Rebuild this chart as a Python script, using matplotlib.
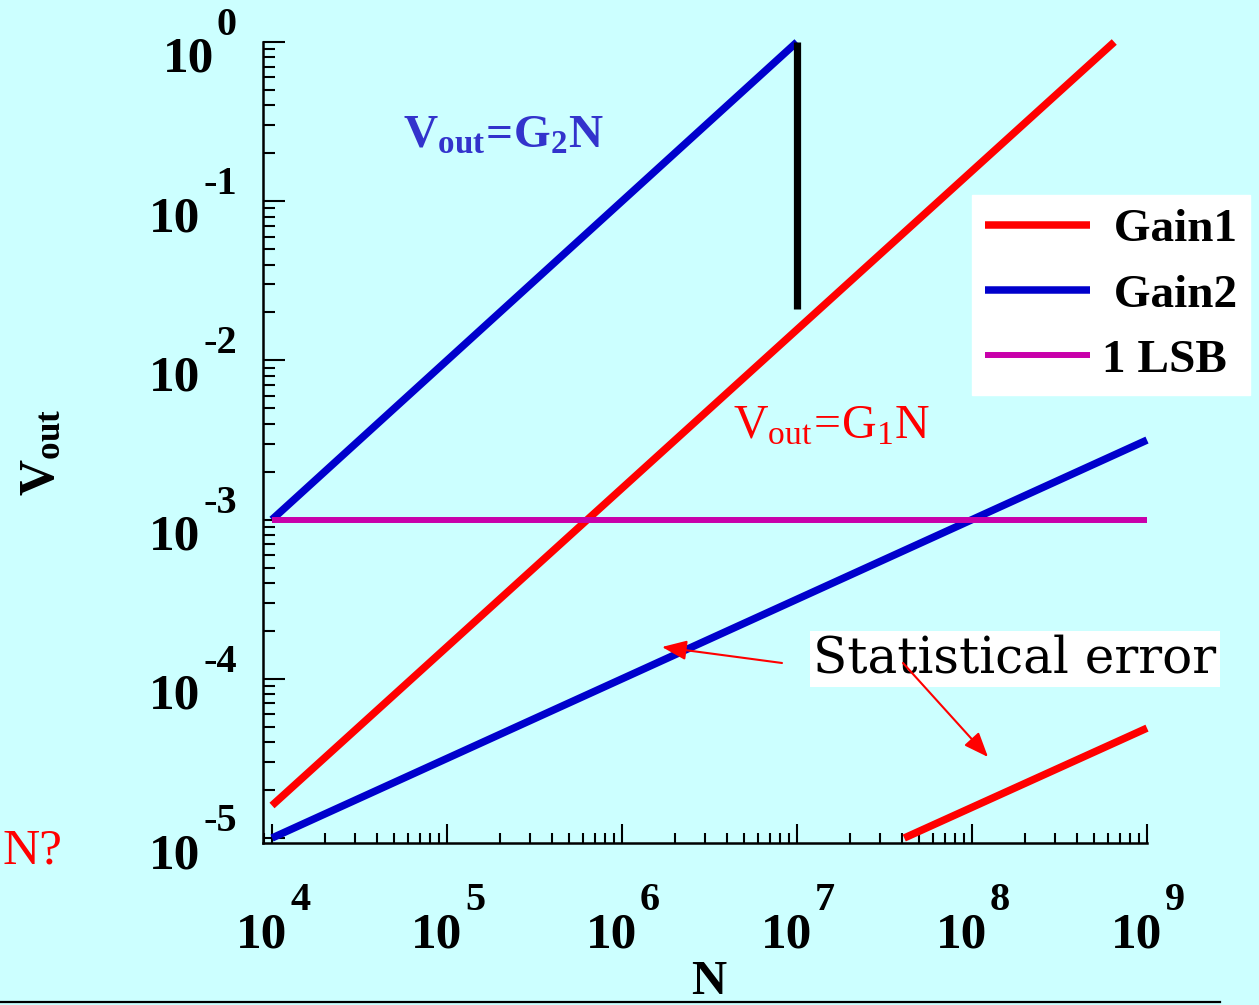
import matplotlib
matplotlib.use('Agg')
import matplotlib.pyplot as plt
from matplotlib.lines import Line2D
from matplotlib.ticker import LogLocator, NullFormatter

# data (straight lines on log-log axes -> end points)
gain2_N = [1e4, 1e7]
gain2_V = [1e-3, 1.0]
gain1_N = [1e4, 6.5e8]
gain1_V = [1.6e-5, 1.0]
err2_N = [1e4, 1e9]
err2_V = [1e-5, 3.16e-3]
err1_N = [4.1e7, 1e9]
err1_V = [1e-5, 4.9e-5]
lsb_N = [1e4, 1e9]
lsb_V = [1e-3, 1e-3]
switch_N = [1e7, 1e7]
switch_V = [1.0, 2.1e-2]

xtick_exp = [4, 5, 6, 7, 8, 9]
ytick_exp = [0, -1, -2, -3, -4, -5]
legend_labels = [' Gain1', ' Gain2', '1 LSB']

BG = '#ccffff'
RED = '#ff0000'
BLUE = '#0000cc'
LSB = '#c800aa'
SERIF = ['Liberation Serif', 'DejaVu Serif']

plt.rcParams['font.family'] = SERIF
plt.rcParams['mathtext.fontset'] = 'custom'
plt.rcParams['mathtext.rm'] = 'Liberation Serif'
plt.rcParams['mathtext.bf'] = 'Liberation Serif:bold'
plt.rcParams['mathtext.it'] = 'Liberation Serif:italic'

W, H = 1259, 1005
fig = plt.figure(figsize=(W / 100, H / 100), dpi=100, facecolor=BG)
ax = fig.add_axes([263 / W, 1 - 843 / H, 884 / W, 801 / H])
ax.set_facecolor('none')
ax.set_xscale('log')
ax.set_yscale('log')
ax.set_xlim(10 ** (4 - 9 / 175), 1e9)
ax.set_ylim(10 ** (-5 - 5 / 159.5), 1.0)

lw = 5.4
l_g1, = ax.plot(gain1_N, gain1_V, color=RED, lw=lw, solid_capstyle='butt', clip_on=False)
l_g2, = ax.plot(gain2_N, gain2_V, color=BLUE, lw=lw, solid_capstyle='butt', clip_on=False)
ax.plot(err2_N, err2_V, color=BLUE, lw=lw, solid_capstyle='butt', clip_on=False)
ax.plot(err1_N, err1_V, color=RED, lw=lw, solid_capstyle='butt', clip_on=False)
l_lsb, = ax.plot(lsb_N, lsb_V, color=LSB, lw=4.3, solid_capstyle='butt', clip_on=False)
ax.plot(switch_N, switch_V, color='black', lw=5.2, solid_capstyle='butt', clip_on=False)

# axes frame and ticks
for s in ['top', 'right']:
    ax.spines[s].set_visible(False)
for s in ['left', 'bottom']:
    ax.spines[s].set_linewidth(1.8)
ax.xaxis.set_major_locator(LogLocator(base=10, numticks=20))
ax.yaxis.set_major_locator(LogLocator(base=10, numticks=20))
ax.xaxis.set_minor_locator(LogLocator(base=10, subs=range(2, 10), numticks=100))
ax.yaxis.set_minor_locator(LogLocator(base=10, subs=range(2, 10), numticks=100))
for axis in [ax.xaxis, ax.yaxis]:
    axis.set_major_formatter(NullFormatter())
    axis.set_minor_formatter(NullFormatter())
ax.tick_params(which='both', direction='in', width=1.5, color='black')
ax.tick_params(axis='y', which='major', length=16)
ax.tick_params(axis='y', which='minor', length=8.5)
ax.tick_params(axis='x', which='major', length=14)
ax.tick_params(axis='x', which='minor', length=7.5)

# tick labels as "10" with a raised exponent
big = dict(family=SERIF, fontweight='bold', fontsize=37, color='black')
small = dict(family=SERIF, fontweight='bold', fontsize=29, color='black')
for e in ytick_exp:
    ex = ax.annotate(str(e), xy=(0, 10.0 ** e), xycoords=('axes fraction', 'data'),
                     xytext=(-26, 7), textcoords='offset pixels',
                     ha='right', va='baseline', annotation_clip=False, **small)
    ax.annotate('10', xy=(0, 10.0 ** e), xycoords=(ex, 'data'),
                xytext=(-3, -30), textcoords='offset pixels',
                ha='right', va='baseline', annotation_clip=False, **big)
for e in xtick_exp:
    ten = ax.annotate('10', xy=(10.0 ** e, 0), xycoords=('data', 'axes fraction'),
                      xytext=(15, -104), textcoords='offset pixels',
                      ha='right', va='baseline', annotation_clip=False, **big)
    ax.annotate(str(e), xy=(1, 0), xycoords=(ten, 'axes fraction'),
                xytext=(3, -67), textcoords='offset pixels',
                ha='left', va='baseline', annotation_clip=False, **small)

def P(x, y):
    return (x, H - y)

# axis titles
ax.annotate(r'$\mathbf{V_{out}}$', xy=P(42, 452), xycoords='figure pixels',
            rotation=90, ha='center', va='center', fontsize=36, color='black')
fig.add_artist(Line2D([0, 1220 / W], [1 - 1002 / H] * 2, transform=fig.transFigure,
                      color='black', lw=1.6))
ax.annotate('N', xy=P(709, 994), xycoords='figure pixels', ha='center', va='baseline',
            fontsize=35, fontweight='bold', family=SERIF, color='black',
            annotation_clip=False, zorder=10)
ax.annotate('N?', xy=P(3, 863), xycoords='figure pixels', ha='left', va='baseline',
            fontsize=37, family=SERIF, color=RED, annotation_clip=False)

# line annotations
ax.annotate(r'$\mathbf{V_{out}\!=\!G_{2}N}$', xy=P(403, 148), xycoords='figure pixels',
            ha='left', va='baseline', fontsize=34, color='#3333cc')
ax.annotate(r'$\mathrm{V_{out}\!=\!G_{1}N}$', xy=P(733, 438), xycoords='figure pixels',
            ha='left', va='baseline', fontsize=34.5, color=RED)

ax.annotate('Statistical error', xy=P(1015, 659), xycoords='figure pixels',
            ha='center', va='center', fontsize=36, family=['DejaVu Serif'], color='black',
            bbox=dict(boxstyle='square,pad=0.06', facecolor='white', edgecolor='none'),
            zorder=4)
arrow = dict(arrowstyle='-|>,head_length=1.5,head_width=0.6', color=RED, lw=1.5,
             shrinkA=0, shrinkB=0)
ax.annotate('', xy=P(662, 647), xytext=P(782, 663), xycoords='figure pixels',
            textcoords='figure pixels', arrowprops=arrow, zorder=6)
ax.annotate('', xy=P(988, 757), xytext=P(903, 663), xycoords='figure pixels',
            textcoords='figure pixels', arrowprops=arrow, zorder=6)

# legend
leg = ax.legend([l_g1, l_g2, l_lsb], legend_labels, loc='upper left',
                bbox_to_anchor=(972 / W, 1 - 195 / H), bbox_transform=fig.transFigure,
                prop=dict(family=SERIF, weight='bold', size=34),
                handlelength=2.22, handletextpad=0.25, borderpad=0.28,
                labelspacing=0.47, borderaxespad=0, fancybox=False,
                facecolor='white', edgecolor='white', framealpha=1)

fig.savefig('out.png', dpi=100, facecolor=BG)
